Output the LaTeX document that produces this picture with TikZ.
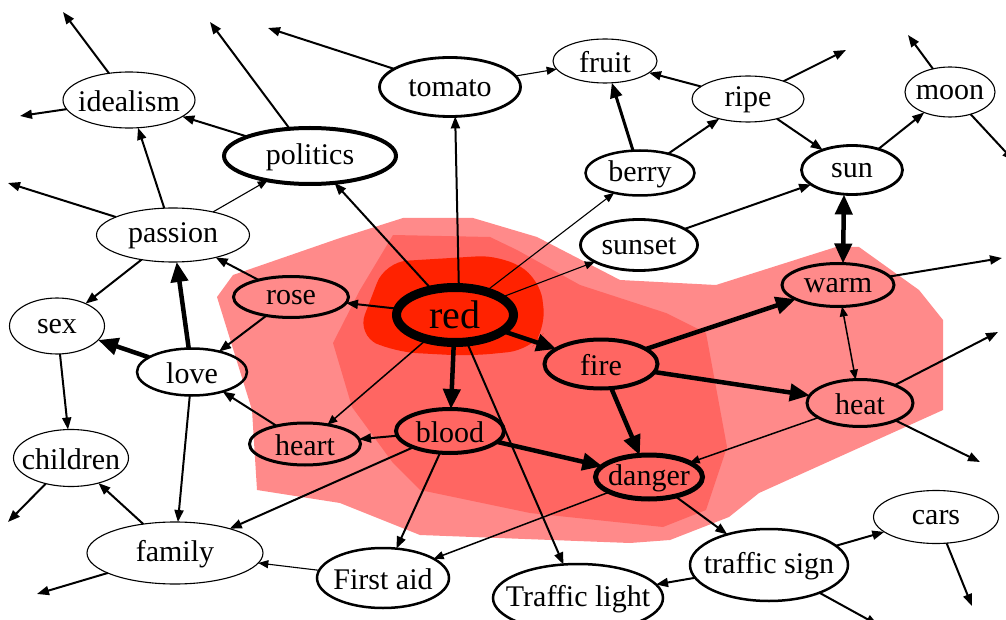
\documentclass[tikz,border=0pt]{standalone}
\usepackage{fontspec}
\setmainfont{Liberation Serif}
\usetikzlibrary{arrows.meta,shapes.geometric}
\definecolor{haloOuter}{HTML}{FF8A8A}
\definecolor{haloMid}{HTML}{FF6662}
\definecolor{haloCore}{HTML}{FF2200}
\newcommand\wordfont{\fontsize{30}{32}\selectfont}
\begin{document}
\begin{tikzpicture}[x=1pt,y=-1pt,
  nd/.style={ellipse, draw, inner sep=0pt, outer sep=0pt},
  sz/.style 2 args={minimum width=#1pt, minimum height=#2pt},
  lb/.style={label={[font=\wordfont, inner sep=0pt, yshift=-1pt]center:#1}},
  bw/.style={line width=#1pt},
  ea/.style={line width=1.1pt, -{Triangle[length=10pt,width=8pt]}},
  eb/.style={line width=2pt, -{Triangle[length=12pt,width=9pt]}},
  ec/.style={line width=3pt, -{Triangle[length=15pt,width=12pt]}},
  ed/.style={line width=4.5pt, -{Triangle[length=20pt,width=17pt]}},
  dd/.style={line width=4.5pt, {Triangle[length=20pt,width=17pt]}-{Triangle[length=20pt,width=17pt]}},
]
\useasboundingbox (0,0) rectangle (1006,620);

% activation halo around "red"
\fill[haloOuter] (217,297) -- (233,275) -- (340,238) -- (403,218) -- (473,218)
  -- (537,237) -- (620,280) -- (716,285) -- (836,247) -- (859,247) -- (919,290)
  -- (943,320) -- (943,410) -- (759,493) -- (729,517) -- (670,540) -- (630,543)
  -- (420,535) -- (340,503) -- (257,490) -- (252,410) -- cycle;
\fill[haloMid] (333,343) -- (360,290) -- (393,235) -- (490,237) -- (517,250)
  -- (580,285) -- (666,313) -- (706,333) -- (727,447) -- (706,510) -- (663,527)
  -- (530,513) -- (420,490) -- (393,463) -- (352,407) -- cycle;
\fill[haloCore, rounded corners=22pt] (357,335) -- (385,262) -- (500,255)
  -- (540,278) -- (546,330) -- (530,350) -- (470,356) -- (395,352) -- cycle;

% concepts
\node[nd, sz={132}{56}, bw=1.1, lb=idealism] (idealism) at (129,100) {};
\node[nd, sz={172}{56}, bw=4, lb=politics] (politics) at (310,156) {};
\node[nd, sz={141}{59}, bw=2.8, lb=tomato] (tomato) at (450,87) {};
\node[nd, sz={104}{44}, bw=1.1, lb=fruit] (fruit) at (605,61) {};
\node[nd, sz={112}{46}, bw=1.1, lb=ripe] (ripe) at (748,99) {};
\node[nd, sz={90}{50}, bw=1.1, lb=moon] (moon) at (950,92) {};
\node[nd, sz={109}{45}, bw=2.5, lb=berry] (berry) at (640,173) {};
\node[nd, sz={101}{49}, bw=2.8, lb=sun] (sun) at (852,170) {};
\node[nd, sz={117}{51}, bw=2.8, lb=sunset] (sunset) at (639,245) {};
\node[nd, sz={153}{54}, bw=1.1, lb=passion] (passion) at (173,235) {};
\node[nd, sz={115}{41}, bw=3, lb=rose] (rose) at (291,297) {};
\node[nd, sz={117}{55}, bw=9, fill=haloCore, label={[font=\fontsize{40}{42}\selectfont, inner sep=0pt]center:red}] (red) at (455,315) {};
\node[nd, sz={112}{43}, bw=3, lb=warm] (warm) at (838,285) {};
\node[nd, sz={95}{56}, bw=1.1, lb=sex] (sex) at (57,326) {};
\node[nd, sz={110}{47}, bw=2.5, lb=love] (love) at (192,372) {};
\node[nd, sz={113}{49}, bw=4, lb=fire] (fire) at (601,364) {};
\node[nd, sz={106}{47}, bw=3, lb=heat] (heat) at (860,403) {};
\node[nd, sz={111}{42}, bw=3, lb=heart] (heart) at (305,444) {};
\node[nd, sz={108}{44}, bw=4, lb=blood] (blood) at (450,431) {};
\node[nd, sz={107}{44}, bw=5, lb=danger] (danger) at (649,477) {};
\node[nd, sz={115}{57}, bw=1.1, lb=children] (children) at (71,458) {};
\node[nd, sz={176}{62}, bw=1.1, lb=family] (family) at (175,553) {};
\node[nd, sz={132}{60}, bw=2.5, lb=First aid] (firstaid) at (383,578) {};
\node[nd, sz={170}{68}, bw=2.5, lb=Traffic light] (tlight) at (578,598) {};
\node[nd, sz={158}{72}, bw=2.5, lb=traffic sign] (tsign) at (769,565) {};
\node[nd, sz={125}{53}, bw=1.1, lb=cars] (cars) at (936,517) {};

% loose ends leading off to further concepts
\coordinate (o1) at (63,12);
\coordinate (o2) at (20,116);
\coordinate (o3) at (210,22);
\coordinate (o4) at (268,28);
\coordinate (o5) at (8,183);
\coordinate (o6) at (846,50);
\coordinate (o7) at (908,35);
\coordinate (o8) at (1014,161);
\coordinate (o9) at (1002,258);
\coordinate (o10) at (998,332);
\coordinate (o11) at (980,462);
\coordinate (o12) at (878,625);
\coordinate (o13) at (972,606);
\coordinate (o14) at (8,522);
\coordinate (o15) at (37,594);

% associations from red
\draw[eb] (red) -- (politics);
\draw[eb] (red.82) -- (tomato.-80);
\draw[ea] (red) -- (berry);
\draw[ea] (red) -- (sunset);
\draw[eb] (red) -- (rose);
\draw[ed] (red) -- (fire);
\draw[ed] (red) -- (blood);
\draw[ea, line width=1.5pt] (red) -- (heart);
\draw[eb] (red) -- (tlight);

% remaining associations
\draw[eb] (politics) -- (idealism);
\draw[eb] (politics) -- (o3);
\draw[eb] (tomato) -- (o4);
\draw[ea] (tomato) -- (fruit);
\draw[ec] (berry) -- (fruit);
\draw[eb] (berry) -- (ripe);
\draw[eb] (ripe) -- (fruit);
\draw[eb] (ripe) -- (o6);
\draw[eb] (ripe) -- (sun);
\draw[eb] (sunset) -- (sun);
\draw[eb] (sun) -- (moon);
\draw[eb] (moon) -- (o7);
\draw[eb] (moon) -- (o8);
\draw[dd] ([xshift=-8pt]sun.south) -- ([xshift=5pt]warm.north);
\draw[eb] (warm) -- (o9);
\draw[line width=1.5pt, {Triangle[length=10pt,width=8pt]}-{Triangle[length=10pt,width=8pt]}] (warm) -- (heat);
\draw[ed] (fire) -- (warm);
\draw[ed] (fire) -- (heat);
\draw[ed] (fire) -- (danger);
\draw[ea, line width=1.5pt] (heat) -- (danger);
\draw[eb] (heat) -- (o10);
\draw[eb] (heat) -- (o11);
\draw[ed] (blood) -- (danger);
\draw[eb] (blood) -- (heart);
\draw[eb] (blood) -- (family);
\draw[eb] (blood) -- (firstaid);
\draw[ea, line width=1.5pt] (danger) -- (firstaid);
\draw[eb] (danger) -- (tsign);
\draw[eb] (tsign) -- (cars);
\draw[eb] (tsign) -- (tlight);
\draw[eb] (tsign) -- (o12);
\draw[eb] (cars) -- (o13);
\draw[ea] (firstaid) -- (family);
\draw[eb] (heart) -- (love);
\draw[eb] (rose) -- (love);
\draw[eb] (rose) -- (passion);
\draw[ed] (love) -- (passion);
\draw[ed] (love) -- (sex);
\draw[eb] (love) -- (family);
\draw[eb] (passion) -- (sex);
\draw[eb] (passion) -- (idealism);
\draw[ea] (passion) -- (politics);
\draw[eb] (passion) -- (o5);
\draw[eb] (idealism) -- (o1);
\draw[eb] (idealism) -- (o2);
\draw[eb] (sex) -- (children);
\draw[eb] (children) -- (o14);
\draw[eb] (family) -- (children);
\draw[eb] (family) -- (o15);
\end{tikzpicture}
\end{document}
